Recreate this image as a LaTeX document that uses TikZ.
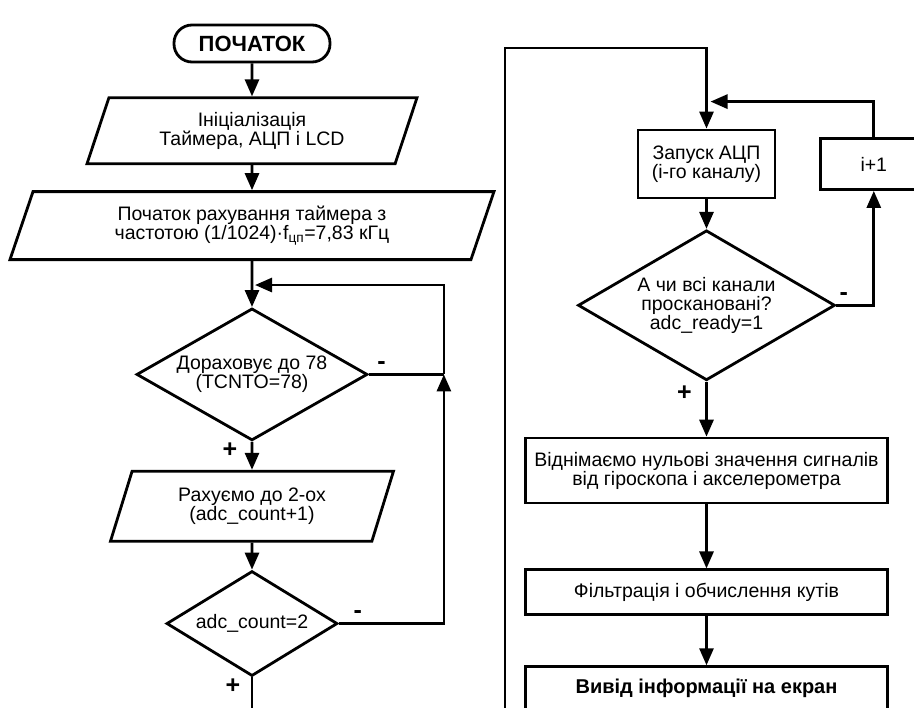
\documentclass[tikz,border=0pt]{standalone}
\usepackage{fontspec}
\setmainfont{Liberation Sans}
\usetikzlibrary{shapes.geometric,arrows.meta,positioning}

\begin{document}
\begin{tikzpicture}[x=1pt,y=1pt,
  line width=2.8pt,
  every node/.style={font=\fontsize{19.5}{19}\selectfont, align=center},
  term/.style={draw, rounded corners=18pt, minimum width=156pt, minimum height=37pt, font=\fontsize{22}{22}\selectfont\bfseries},
  io/.style={draw, trapezium, trapezium left angle=62, trapezium right angle=118, trapezium stretches body, inner sep=2pt},
  proc/.style={draw, rectangle, inner sep=2pt},
  cond/.style={draw, diamond, inner sep=0pt},
  arr/.style={-{Triangle[length=17pt,width=14pt]}},
  sign/.style={font=\fontsize{25}{25}\selectfont\bfseries}
]
\useasboundingbox (0,0) rectangle (914,-708);

% left column
\node[term] (start) at (252,-43.5) {ПОЧАТОК};
\node[io, minimum width=330pt, minimum height=66pt, below=33pt of start] (init) {Ініціалізація\\Таймера, АЦП і LCD};
\node[io, minimum width=484pt, minimum height=68pt, below=25pt of init] (timer) {Початок рахування таймера з\\частотою (1/1024)·f\textsubscript{цп}=7,83 кГц};
\node[cond, minimum width=231pt, minimum height=132pt, aspect=1.75, below=46pt of timer] (cnt78) {Дораховує до 78\\(TCNTO=78)};
\node[io, minimum width=283pt, minimum height=70pt, below=28pt of cnt78] (count) {Рахуємо до 2-ох\\(adc\_count+1)};
\node[cond, minimum width=171pt, minimum height=105pt, aspect=1.63, below=27pt of count] (cnt2) {adc\_count=2};

% right column
\node[proc, minimum width=137pt, minimum height=68pt] (adc) at (706.5,-164) {Запуск АЦП\\(і-го каналу)};
\node[proc, minimum width=106pt, minimum height=51pt, right=43pt of adc] (inc) {i+1};
\node[cond, minimum width=257pt, minimum height=150pt, aspect=1.71, below=29.5pt of adc] (ready) {А чи всі канали\\проскановані?\\adc\_ready=1};
\node[proc, minimum width=362pt, minimum height=65pt, below=55pt of ready] (zero) {Віднімаємо нульові значення сигналів\\від гіроскопа і акселерометра};
\node[proc, minimum width=362pt, minimum height=45pt, below=64pt of zero] (filt) {Фільтрація і обчислення кутів};
\node[proc, minimum width=362pt, minimum height=44pt, below=49pt of filt, font=\fontsize{20}{21}\selectfont\bfseries] (out) {Вивід інформації на екран};

% loop points
\coordinate (bot) at (0,-708);
\coordinate (j1) at ([xshift=75pt]cnt78.east);
\coordinate (m1) at ([xshift=3pt,yshift=22pt]cnt78.north);
\coordinate (m2) at ([xshift=4pt,yshift=27pt]adc.north);
\coordinate (rb) at (505,-708);
\coordinate (lt) at (505,-48);

\draw[arr] (start) -- (init);
\draw[arr] (init) -- (timer);
\draw[arr] (timer) -- (cnt78);
\draw[arr] (cnt78) -- node[sign, left=10pt, pos=0.3]{+} (count);
\draw[arr] (count) -- (cnt2);
\draw (cnt78.east) -- node[sign, above, pos=0.17]{-} (j1);
\draw[arr] (cnt2.east) -| node[sign, above, pos=0.09]{-} (j1);
\draw[arr] (j1) |- (m1);
\draw (cnt2.south) -- node[sign, left=7pt, pos=0.27]{+} (cnt2.south |- bot);

\draw[arr] (rb) -- (lt) -| (adc.north);
\draw[arr] (adc) -- (ready);
\draw[arr] (ready.east) -| node[sign, above, pos=0.1]{-} (inc.south);
\draw[arr] (inc.north) |- (m2);
\draw[arr] (ready) -- node[sign, left=10pt, pos=0.2]{+} (zero);
\draw[arr] (zero) -- (filt);
\draw[arr] (filt) -- (out);
\end{tikzpicture}
\end{document}
